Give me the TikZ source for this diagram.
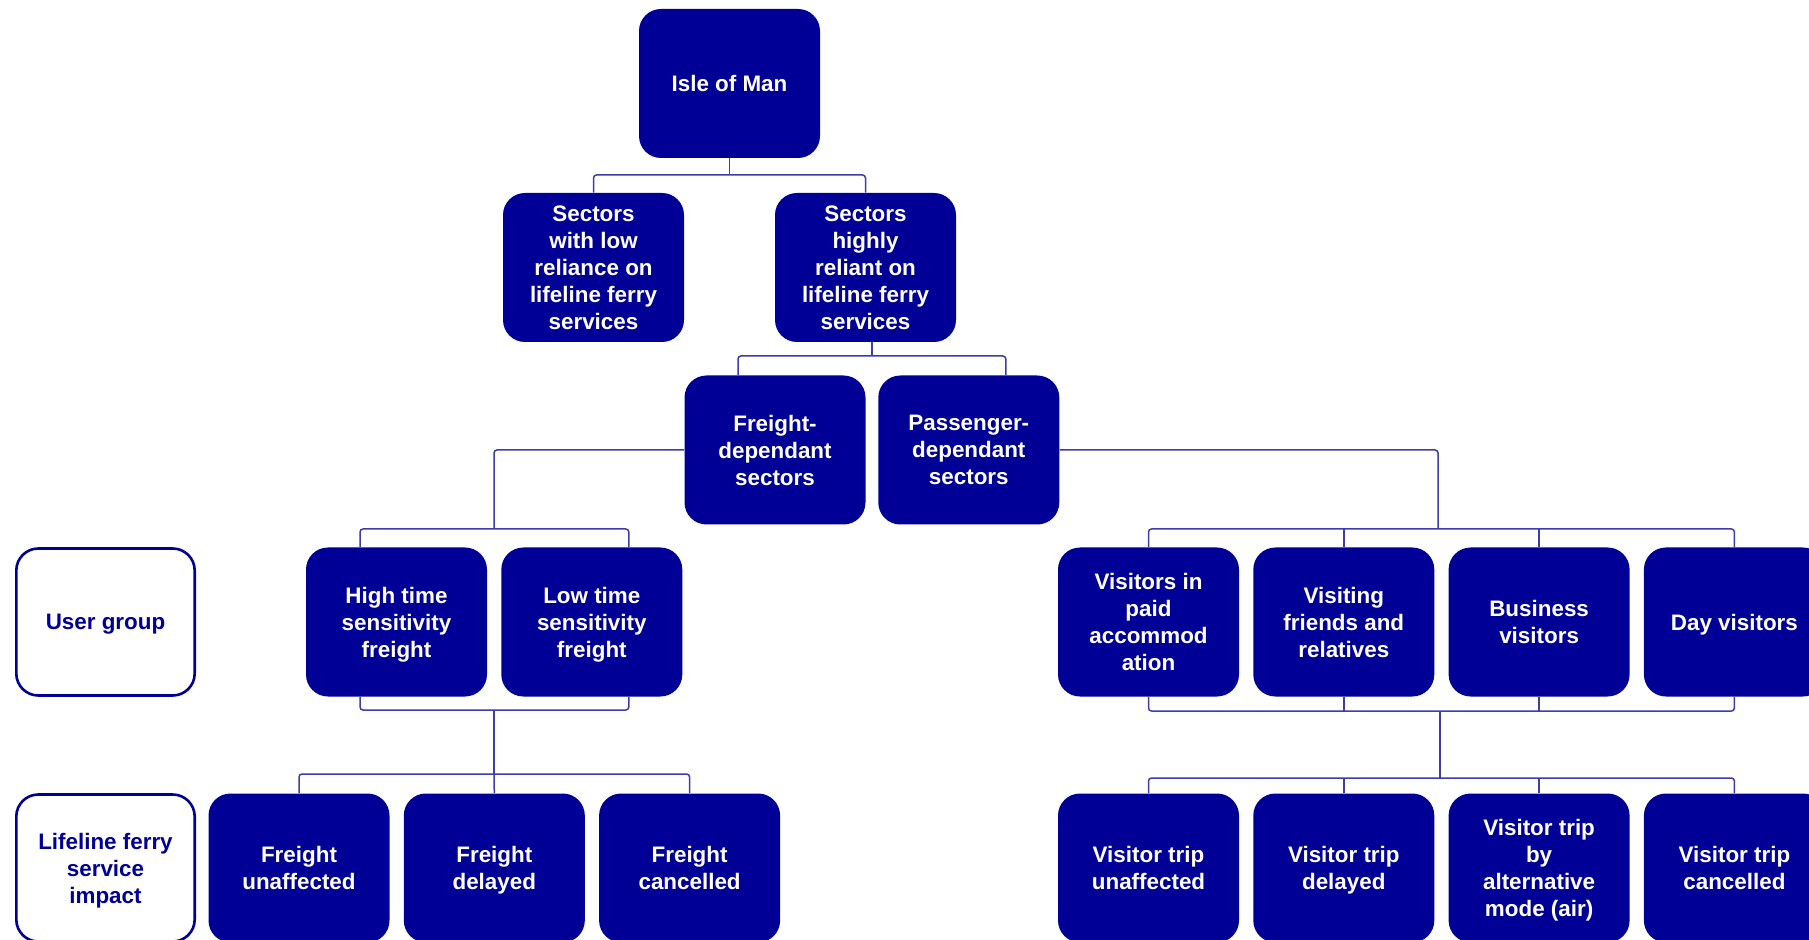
\documentclass[tikz,border=0pt]{standalone}
\usepackage{fontspec}
\setmainfont{Liberation Sans}
\usetikzlibrary{positioning,calc}
\definecolor{iomnavy}{RGB}{0,0,150}
\definecolor{iomline}{RGB}{60,60,170}

\begin{document}
\begin{tikzpicture}[
      x=0.5pt, y=-0.5pt,
      font=\bfseries\fontsize{11.2}{13.45}\selectfont,
      box/.style={
        fill=iomnavy, text=white, rounded corners=11pt,
        align=center, inner sep=2pt, text depth=0pt,
        minimum width=90.5pt, minimum height=74.5pt
      },
      lbl/.style={
        draw=iomnavy, line width=1.3pt, fill=white, text=iomnavy,
        rounded corners=11pt, align=center, inner sep=2pt, text depth=0pt,
        minimum width=89.2pt, minimum height=73.5pt
      },
      link/.style={iomline, line width=0.75pt, rounded corners=1.5pt}
    ]
      \useasboundingbox (0,0) rectangle (1809,940);
      \clip (0,0) rectangle (1809,940);

      \node[box] (isle) at (729.5,83.5) {Isle of Man};
      \node[box] (low) at (593.5,267.5)
        {Sectors\\with low\\reliance on\\lifeline ferry\\services};
      \node[box] (high) at (865.5,267.5)
        {Sectors\\highly\\reliant on\\lifeline ferry\\services};

      \node[box] (fdep) at (775,450) {Freight-\\dependant\\sectors};
      \node[box, right=6pt of fdep] (pdep) {Passenger-\\dependant\\sectors};

      \node[lbl] (ugrp) at (105.5,622) {User group};
      \node[box] (hts) at (396.5,622) {High time\\sensitivity\\freight};
      \node[box, right=6.75pt of hts] (lts) {Low time\\sensitivity\\freight};
      \node[box] (vpaid) at (1148.5,622) {Visitors in\\paid\\accommod\\ation};
      \node[box, right=6.75pt of vpaid] (vfr) {Visiting\\friends and\\relatives};
      \node[box, right=6.75pt of vfr] (vbus) {Business\\visitors};
      \node[box, right=6.75pt of vbus] (vday) {Day visitors};

      \node[lbl] (impact) at (105.5,868) {Lifeline ferry\\service\\impact};
      \node[box] (fun) at (299,868) {Freight\\unaffected};
      \node[box, right=6.75pt of fun] (fdel) {Freight\\delayed};
      \node[box, right=6.75pt of fdel] (fcan) {Freight\\cancelled};
      \node[box] (vun) at (1148.5,868) {Visitor trip\\unaffected};
      \node[box, right=6.75pt of vun] (vdel) {Visitor trip\\delayed};
      \node[box, right=6.75pt of vdel] (valt) {Visitor trip\\by\\alternative\\mode (air)};
      \node[box, right=6.75pt of valt] (vcan) {Visitor trip\\cancelled};

      \coordinate (j1) at (729.5,175);
      \draw[link] (isle.south) -- (j1);
      \draw[link] (low.north) |- (j1) -| (high.north);

      \coordinate (j2) at (872,356);
      \draw[link] (j2 |- high.south) -- (j2);
      \draw[link] ($(fdep.north)+(-37,0)$) |- (j2) -| ($(pdep.north)+(37,0)$);

      \coordinate (j3) at (494,529);
      \draw[link] (fdep.west) -| (j3);
      \draw[link] ($(hts.north)+(-36.5,0)$) |- (j3) -| ($(lts.north)+(37,0)$);

      \coordinate (j4) at (1438,529);
      \draw[link] (pdep.east) -| (j4);
      \draw[link] (vpaid.north) |- (j4) -| (vday.north);
      \draw[link] (vfr.north) -- (vfr.north |- j4);
      \draw[link] (vbus.north) -- (vbus.north |- j4);

      \coordinate (j5) at (494,710);
      \coordinate (j6) at (494,774);
      \draw[link] ($(hts.south)+(-36.5,0)$) |- (j5) -| ($(lts.south)+(37,0)$);
      \draw[link] (j5) -- (j6);
      \draw[link] (fun.north) |- (j6) -| (fcan.north);
      \draw[link] (fdel.north) -- (j6);

      \coordinate (j7) at (1440,711);
      \coordinate (j8) at (1440,778);
      \draw[link] (vpaid.south) |- (j7) -| (vday.south);
      \draw[link] (vfr.south) -- (vfr.south |- j7);
      \draw[link] (vbus.south) -- (vbus.south |- j7);
      \draw[link] (j7) -- (j8);
      \draw[link] (vun.north) |- (j8) -| (vcan.north);
      \draw[link] (vdel.north) -- (vdel.north |- j8);
      \draw[link] (valt.north) -- (valt.north |- j8);
    \end{tikzpicture}
\end{document}
